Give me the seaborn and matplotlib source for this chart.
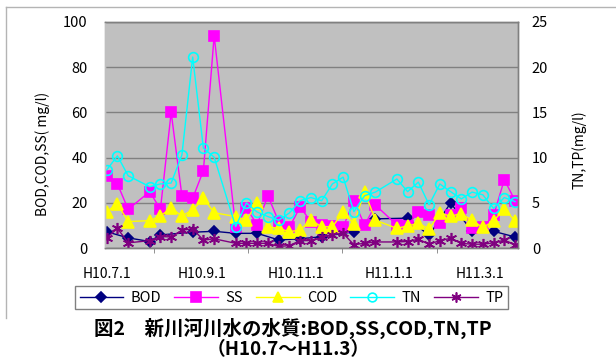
import pandas as pd
import numpy as np
import seaborn as sns
import matplotlib.pyplot as plt
from matplotlib.lines import Line2D

# sampling dates (weekly, some weeks missing)
dates = ['1998-07-01', '1998-07-08', '1998-07-15', '1998-07-29', '1998-08-05', '1998-08-12',
         '1998-08-19', '1998-08-26', '1998-09-02', '1998-09-09', '1998-09-23', '1998-09-30',
         '1998-10-07', '1998-10-14', '1998-10-21', '1998-10-28', '1998-11-04', '1998-11-11',
         '1998-11-18', '1998-11-25', '1998-12-02', '1998-12-09', '1998-12-16', '1998-12-23',
         '1999-01-06', '1999-01-13', '1999-01-20', '1999-01-27', '1999-02-03', '1999-02-10',
         '1999-02-17', '1999-02-24', '1999-03-03', '1999-03-10', '1999-03-17', '1999-03-24']

nan = np.nan
# left axis (mg/l)
bod = [7.3, nan, 4.6, 3.0, 5.9, nan, nan, 7.1, nan, 7.5, 6.6, nan,
       6.6, nan, 3.7, nan, 4.2, nan, 5.1, nan, nan, 7.3, nan, 13.0,
       nan, 13.3, nan, 5.7, nan, 20.0, nan, 7.5, nan, 7.5, nan, 5.0]
ss = [32, 28.4, 17.2, 25, 17.2, 60, 23.1, 22.1, 34.3, 93.8, 9.5, 17.7,
      10.5, 23.2, 11.8, 9.3, 18.2, 11.8, 10.3, 10.0, 9.3, 21.0, 10.2, 19.1,
      10.3, 10.0, 16.2, 14.5, 11.0, 14.5, 17.8, 9.0, 9.3, 14.5, 30.3, 21.0]
cod = [16.2, 19.6, 11.8, 12.2, 14.3, 17.7, 14.3, 16.9, 22.1, 15.7, 14.0, 12.5,
       19.9, 9.5, 8.8, 7.3, 8.1, 12.5, 9.5, 9.5, 16.0, 10.8, 25.0, 12.4,
       8.8, 9.9, 11.0, 8.5, 15.5, 14.2, 15.3, 12.3, 9.2, 12.0, 17.5, 12.0]
# right axis (mg/l)
tn = [8.65, 10.2, 8.0, 6.8, 7.1, 7.2, 10.3, 21.1, 11.05, 10.05, 2.4, 5.0,
      4.0, 3.5, 3.1, 3.9, 5.25, 5.6, 5.25, 7.1, 7.85, 4.05, 5.8, 6.2,
      7.65, 6.25, 7.3, 4.8, 7.1, 6.25, 5.45, 6.2, 5.9, 4.4, 5.6, 5.15]
tp = [1.15, 2.2, 0.6, 0.85, 1.3, 1.25, 2.0, 2.15, 0.9, 1.05, 0.55, 0.55,
      0.55, 0.55, 0.2, 0.3, 0.85, 0.85, 1.2, 1.5, 1.65, 0.4, 0.55, 0.7,
      0.7, 0.75, 1.0, 0.45, 0.85, 1.1, 0.55, 0.45, 0.45, 0.6, 0.9, 0.4]

label_dates = ['1998-07-01', '1998-09-01', '1998-11-01', '1999-01-01', '1999-03-01']
label_text = ['H10.7.1', 'H10.9.1', 'H10.11.1', 'H11.1.1', 'H11.3.1']
tick_dates = ['1998-08-01', '1998-10-01', '1998-12-01', '1999-02-01']

start = pd.Timestamp('1998-07-01')
def to_days(d):
    return (pd.to_datetime(d) - start).days

day = to_days(dates)
df = pd.concat([
    pd.DataFrame({'day': day, 'value': v, 'param': name})
    for name, v in [('BOD', bod), ('SS', ss), ('COD', cod), ('TN', tn), ('TP', tp)]
])

plt.rcParams['font.family'] = ['Noto Sans CJK JP', 'DejaVu Sans']

fig = plt.figure(figsize=(6.16, 3.63), dpi=100)
ax = fig.add_axes([105 / 616, 1 - 248.3 / 363, 413 / 616, 226.6 / 363])
ax2 = ax.twinx()

styles = {
    'BOD': dict(ax=ax, color='#000080', marker='D', markersize=5.5, markerfacecolor='#000080'),
    'SS': dict(ax=ax, color='#FF00FF', marker='s', markersize=7.5, markerfacecolor='#FF00FF'),
    'COD': dict(ax=ax, color='#FFFF00', marker='^', markersize=8, markerfacecolor='#FFFF00'),
    'TN': dict(ax=ax2, color='#00FFFF', marker='o', markersize=7, markerfacecolor='none'),
    'TP': dict(ax=ax2, color='#800080', marker=(6, 2, 0), markersize=8, markerfacecolor='#800080'),
}

handles = []
for name, st in styles.items():
    a = st['ax']
    sns.lineplot(data=df[df['param'] == name], x='day', y='value', ax=a,
                 color=st['color'], marker=st['marker'], markersize=st['markersize'],
                 markerfacecolor=st['markerfacecolor'], markeredgecolor=st['color'],
                 markeredgewidth=1.2, linewidth=1.0, estimator=None, legend=False)
    handles.append(Line2D([], [], color=st['color'], marker=st['marker'],
                          markersize=st['markersize'] * 0.9,
                          markerfacecolor=st['markerfacecolor'],
                          markeredgecolor=st['color'], markeredgewidth=1.2,
                          linewidth=1.0, label=name))

ax.set_facecolor('#C0C0C0')
ax.set_xlim(-1.1, 267.9)
ax.set_ylim(0, 100)
ax.set_yticks(range(0, 101, 20))
ax2.set_ylim(0, 25)
ax2.set_yticks(range(0, 26, 5))

ax.grid(axis='y', color='#808080', linewidth=1.0)
ax.grid(axis='x', visible=False)
ax.set_axisbelow(True)

ax.set_xticks(to_days(label_dates))
ax.set_xticklabels(label_text)
ax.set_xticks(to_days(tick_dates), minor=True)
ax.tick_params(axis='x', which='major', length=0, pad=13.5, labelsize=10)
ax.tick_params(axis='x', which='minor', length=3.5, color='#808080', direction='out')
ax.tick_params(axis='y', length=0, pad=12.5, labelsize=10.5)
ax2.tick_params(axis='y', length=0, pad=10, labelsize=10.5)

for a in (ax, ax2):
    for s in a.spines.values():
        s.set_color('#808080')
        s.set_linewidth(1.0)
ax.spines['left'].set_color('#C0C0C0')
ax2.spines['left'].set_color('#C0C0C0')

ax.set_xlabel('')
ax.set_ylabel('BOD,COD,SS( mg/l)', fontsize=10)
ax.yaxis.set_label_coords(-0.133, 0.416)
ax2.set_ylabel('TN,TP(mg/l)', fontsize=10)
ax2.yaxis.set_label_coords(1.130, 0.434)

leg = fig.legend(handles=handles, loc='center', bbox_to_anchor=(0.473, 0.18), ncol=5,
                 fontsize=10.5, handlelength=3.0, handletextpad=0.5, columnspacing=0.9,
                 frameon=True, fancybox=False, edgecolor='#808080', framealpha=1,
                 borderpad=0.3)
leg.get_frame().set_linewidth(1.0)

fig.text(0.476, 1 - 328 / 363, '図2　新川河川水の水質:BOD,SS,COD,TN,TP',
         ha='center', va='center', fontsize=14, fontweight='bold')
fig.text(0.4675, 1 - 350 / 363, '（H10.7～H11.3）',
         ha='center', va='center', fontsize=13.5, fontweight='bold')

# chart area border (top and left edges)
fig.add_artist(Line2D([6 / 616, 1.0], [1 - 7 / 363, 1 - 7 / 363], color='#B4B4B4', linewidth=1.0))
fig.add_artist(Line2D([6 / 616, 6 / 616], [1 - 7 / 363, 1 - 318 / 363], color='#B4B4B4', linewidth=1.0))

fig.savefig('out.png', dpi=100)
